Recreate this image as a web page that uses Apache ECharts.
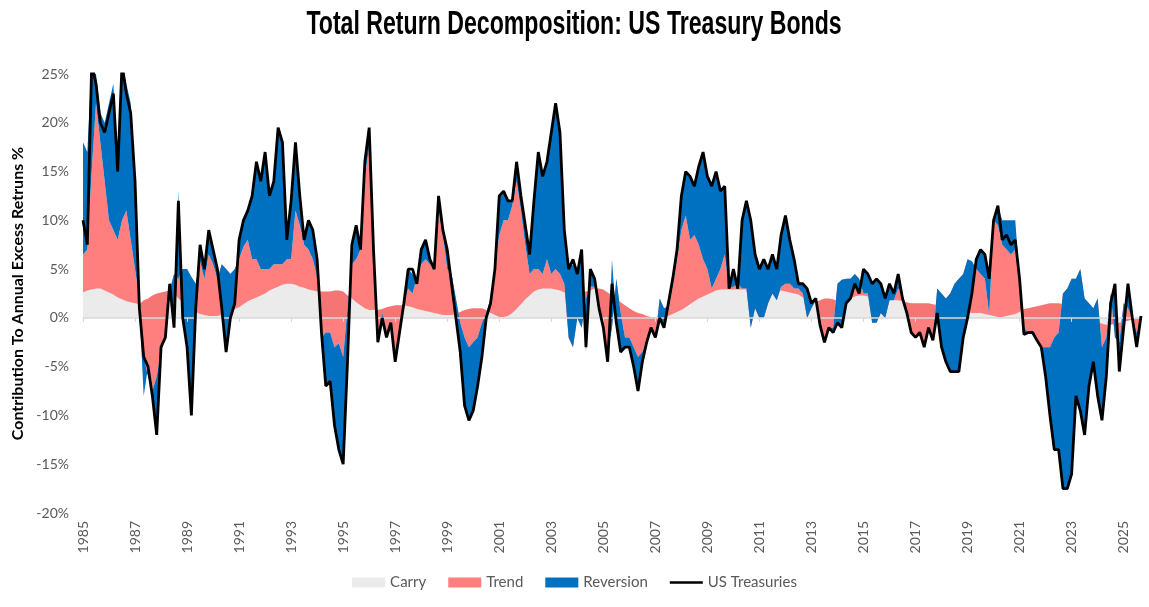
<!DOCTYPE html>
<html>
<head>
<meta charset="utf-8">
<title>Total Return Decomposition: US Treasury Bonds</title>
<script src="https://cdn.jsdelivr.net/npm/echarts@6/dist/echarts.min.js"></script>
<style>
  html, body { margin: 0; padding: 0; background: #fff; }
  #chart { width: 1149px; height: 607px; }
</style>
</head>
<body>
<div id="chart"></div>
<script>
// bi-monthly observations, Jan 1985 .. Sep 2025 (one row per year: Jan Mar May Jul Sep Nov)
const months = [];
for (let y = 1985; y <= 2025; y++) {
  for (let m = 1; m <= 11; m += 2) {
    if (y === 2025 && m > 9) break;
    months.push(y + '-' + String(m).padStart(2, '0'));
  }
}

const seriesNames = ['Carry', 'Trend', 'Reversion', 'US Treasuries'];
const yTicks = { min: -20, max: 25, step: 5 };

// contribution to annual excess returns, %
const carry = [
  2.6, 2.8, 2.9, 3.0, 3.0, 2.8,
  2.6, 2.4, 2.1, 1.9, 1.7, 1.6,
  1.5, 1.4, 1.8, 2.0, 2.3, 2.5,
  2.6, 2.7, 2.8, 2.5, 2.0, 1.6,
  1.2, 0.9, 0.6, 0.4, 0.3, 0.2,
  0.2, 0.2, 0.3, 0.4, 0.6, 0.9,
  1.1, 1.4, 1.7, 1.9, 2.1, 2.3,
  2.5, 2.8, 3.0, 3.2, 3.4, 3.5,
  3.5, 3.4, 3.2, 3.1, 2.9, 2.8,
  2.7, 2.7, 2.7, 2.7, 2.8, 2.8,
  2.7, 2.3, 2.0, 1.6, 1.3, 1.0,
  0.8, 0.8, 0.8, 0.9, 1.1, 1.2,
  1.3, 1.3, 1.3, 1.2, 1.1, 0.9,
  0.8, 0.7, 0.6, 0.5, 0.4, 0.3,
  0.3, 0.3, 0.4, 0.6, 0.8, 0.9,
  1.0, 1.0, 1.0, 0.8, 0.5, 0.3,
  0.1, 0.1, 0.2, 0.5, 0.9, 1.4,
  1.9, 2.3, 2.7, 2.9, 3.0, 3.0,
  3.0, 2.9, 2.8, 2.6, 2.5, 2.5,
  2.5, 2.6, 2.7, 2.8, 3.0, 3.0,
  2.9, 2.6, 2.3, 2.0, 1.6, 1.3,
  1.0, 0.7, 0.5, 0.4, 0.2, 0.1,
  0.05, 0.05, 0.1, 0.2, 0.4, 0.6,
  0.8, 1.1, 1.4, 1.7, 2.0, 2.2,
  2.4, 2.6, 2.8, 2.9, 2.9, 2.9,
  2.9, 2.9, 2.9, 2.9, 2.9, 2.9,
  2.9, 2.9, 2.9, 2.9, 2.8, 2.8,
  2.7, 2.6, 2.5, 2.4, 2.1, 1.8,
  1.6, 1.6, 1.8, 2.0, 2.0, 1.9,
  1.7, 1.7, 1.8, 2.0, 2.2, 2.3,
  2.3, 2.2, 2.1, 2.0, 1.9, 1.8,
  1.8, 1.8, 1.8, 1.7, 1.6, 1.5,
  1.5, 1.5, 1.5, 1.5, 1.4, 1.3,
  1.2, 1.1, 1.0, 0.9, 0.8, 0.7,
  0.6, 0.5, 0.5, 0.5, 0.4, 0.3,
  0.2, 0.1, 0.1, 0.2, 0.3, 0.4,
  0.6, 0.9, 1.0, 1.1, 1.2, 1.3,
  1.4, 1.5, 1.5, 1.5, 1.4, 1.2,
  1.0, 0.7, 0.4, 0.2, 0.0, -0.2,
  -0.4, -0.6, -0.7, -0.7, -0.6, -0.5,
  -0.4, -0.3, -0.2, -0.1, -0.1
];

const trend = [
  3.9, 4.2, 12.1, 19, 15, 11.2,
  7.4, 6.6, 5.9, 8.1, 9.3, 6.4,
  3.5, 0.6, -5.8, -8, -9.8, -8.5,
  -6.1, -4.2, 0, 2, 2, 3.4,
  3.8, 3.3, 2.9, 5.4, 3.7, 6.3,
  5.3, 3.8, 5.2, 4.6, 3.9, 4.1,
  4.9, 5.9, 6.3, 4.1, 3.9, 2.7,
  2.5, 2.2, 2.5, 2.3, 2.1, 2.5,
  2.5, 7.6, 6.3, 4.4, 4.1, 3.2,
  1.5, -4.7, -4.2, -4.2, -5.8, -5.4,
  -6.7, -1.3, 3.5, 4.4, 5.7, 13.5,
  16.7, 7.2, -2.8, -0.4, -2.6, -1.7,
  -5.3, -2.3, 0, 1.8, 1.4, 3.3,
  4.7, 5.3, 4.9, 4.5, 10.6, 8.2,
  4.7, 4.2, 1.6, -1.1, -2.8, -3.9,
  -3.5, -3, -1.5, -0.3, 1.5, 4.7,
  8.4, 9.9, 9.8, 11, 13.1, 9.6,
  5.6, 2.2, 2.3, 2.1, 1.5, 3,
  1.5, 2.1, 1.7, 0.9, -4.5, -5.5,
  -2.5, -3.6, -0.7, 0.4, 0.2, -2,
  -3.9, -6.1, -3.3, 2, -1.1, -3.3,
  -3, -3.7, -4.5, -3.9, -2.7, -1.1,
  -2.05, 1.95, 0.9, 1, 2.8, 5.4,
  8.2, 9.4, 6.6, 6.8, 5.5, 3.8,
  2.6, 0.4, 1.2, 2.1, 3.6, 0.1,
  0.3, 0.6, 0.1, 0.1, -3.9, -1.9,
  -2.9, -2.9, -1.4, -0.4, -1, 0.4,
  0.8, 0.9, 0.5, 0.6, 0.4, -1.8,
  -0.6, 0.2, -2.6, -4, -3, -2.9,
  1.8, 2.2, 2.2, 2, 2.3, 1.7,
  0.2, 0.3, -2.6, -2.5, -1.4, -1.8,
  0, 0, 1.2, 0.8, -1.1, -3,
  -3.5, -3, -4.5, -2.5, -3.7, 1.7,
  1.3, 0.9, 1.5, 2.6, 3.2, 3.8,
  5.4, 5.3, 4.5, 4, 3.6, 0,
  9.8, 9.4, 7.4, 6.8, 6.2, 6.6,
  3.4, -1.9, -2.5, -2.6, -3.5, -4.3,
  -4.4, -4.5, -3.5, -3, 1.1, 1.8,
  3, 3.3, 4.6, 1.8, 1.5, 1.2,
  2.4, -2.4, -1.3, 3.2, -1.4, -2,
  1.9, 1.3, 0.2, -1.4, -0.4
];

const reversion = [
  11.5, 10, 11, 3, 3, 6,
  12, 15, 8, 16, 13, 14,
  10, -1, -4, 1, -0.5, -6,
  0.5, -0.5, 0.7, -5.5, 9, -5,
  -8, -13.7, -2.5, 1.7, 1.5, 2.5,
  1.5, 1, -4.5, -8.5, -4.5, -3.5,
  2, 2.7, 3, 6.5, 10, 9,
  12, 7.5, 8.5, 14, 12.5, 2,
  6, 7, 3, 0.5, 3, 3,
  1.8, 0.5, -5.5, -5, -8, -10.9,
  -11, -5.5, 2, 3.5, 0.5, 1.5,
  2, -1, -0.5, -0.5, -0.5, 0,
  -0.5, -0.5, 0.2, 2, 2, -0.7,
  1.5, 2, 0.5, 0, 1.5, 0.5,
  2, -1, -2, -3, -7, -7.5,
  -7, -5, -3.5, -0.5, -0.5, 0,
  4, 3, 2, 0.5, 2, 1.5,
  2, 2, 7, 12, 10, 10,
  14.5, 17, 14.5, 5.5, 7, 8.5,
  4.5, 8, -5.5, 1.8, 0.8, 0,
  0, -1, 7, -4.5, -4, -1,
  -1, -2, -3.5, -1, 0, 0,
  0, -2, -2, 0.3, 0.8, 1,
  3.5, 4.5, 6.5, 5, 8, 11,
  9.5, 10.5, 11, 8, 7, 0,
  1.8, -0.5, 7, 9, 11, 5.5,
  5, 6, 3.5, 4, 3.2, 5.3,
  7, 4.5, 3, 0.5, 1, 3,
  0.5, 0.2, 0, -0.5, 0, -0.5,
  -4, -4.9, -2.5, -2, -1, -1.5,
  2.5, 2, 4, 4.5, 3, 2,
  1.7, 0.7, 1.5, -0.5, 0, 0,
  0, 0, 0, 0, 0, -2.5,
  -5.5, -6.5, -8, -9, -9.5, -6.5,
  -6, -3.3, 1, 2.5, 2.5, 3.7,
  0, 2, 2.5, 3, 3.5, 3,
  0, -0.7, 0, 0, 0, 0,
  -3, -7, -11.5, -12, -20, -20.5,
  -20, -12, -14.5, -14, -8.5, -5.5,
  -10, -7.5, -4, -1, 5.5, -3,
  -2.5, 2.5, 0, -1.5, 0.7
];

const usTreasuries = [
  10, 7.5, 26, 24, 20, 19,
  21, 23, 15, 26, 23, 21,
  14, 1, -4, -5, -8, -12,
  -3, -2, 3.5, -1, 12, 0,
  -3, -10, 1, 7.5, 5, 9,
  7, 5, 1, -3.5, 0, 1.5,
  8, 10, 11, 12.5, 16, 14,
  17, 12.5, 14, 19.5, 18, 8,
  12, 18, 12.5, 8, 10, 9,
  6, -1.5, -7, -6.5, -11, -13.5,
  -15, -4.5, 7.5, 9.5, 7, 16,
  19.5, 7, -2.5, 0, -2, -0.5,
  -4.5, -1.5, 1.5, 5, 5, 3.5,
  7, 8, 6, 5, 12.5, 9,
  7, 3.5, 0, -3.5, -9, -10.5,
  -9.5, -7, -4, 0, 1.5, 5,
  12.5, 13, 12, 12, 16, 12.5,
  9.5, 6.5, 12, 17, 14.5, 16,
  19, 22, 19, 9, 5, 6,
  4.5, 7, -3, 5, 4, 1,
  -1, -4.5, 3.5, -0.5, -3.5, -3,
  -3, -5, -7.5, -4.5, -2.5, -1,
  -2, 0, -1, 1.5, 4, 7,
  12.5, 15, 14.5, 13.5, 15.5, 17,
  14.5, 13.5, 15, 13, 13.5, 3,
  5, 3, 10, 12, 10, 6.5,
  5, 6, 5, 6.5, 5, 8.5,
  10.5, 8, 6, 3.5, 3.5, 3,
  1.5, 2, -0.8, -2.5, -1, -1.5,
  -0.5, -1, 1.5, 2, 3.5, 2.5,
  5, 4.5, 3.5, 4, 3.5, 2,
  3.5, 2.5, 4.5, 2, 0.5, -1.5,
  -2, -1.5, -3, -1, -2.3, 0.5,
  -3, -4.5, -5.5, -5.5, -5.5, -2,
  0, 2.5, 6, 7, 6.5, 4,
  10, 11.5, 8, 8.5, 7.5, 8,
  4, -1.7, -1.5, -1.5, -2.3, -3,
  -6, -10, -13.5, -13.5, -17.5, -17.5,
  -16, -8, -9.5, -12, -7, -4.5,
  -8, -10.5, -6, 1.5, 3.5, -5.5,
  -1, 3.5, 0, -3, 0.2
];

const colors = {
  carry: '#EBEBEB',
  trend: 'rgba(255,0,0,0.5)',
  reversion: '#0070C0',
  line: '#000000'
};

const labelFont = 'Lato, "Open Sans", sans-serif';
// thin horizontal bar for the line legend entry (corner points keep the 33x10 box)
const lineIcon = 'path://M0,0 L0.01,0 M33,10 L33,9.99 M0,3.75 L33,3.75 L33,6.25 L0,6.25 Z';

function areaSeries(name, data, color) {
  return {
    name: name,
    type: 'line',
    stack: 'decomp',
    stackStrategy: 'all',
    data: data,
    symbol: 'none',
    lineStyle: { width: 0 },
    itemStyle: { color: color },
    areaStyle: { color: color, opacity: 1 },
    emphasis: { disabled: true },
    z: 2
  };
}

const chart = echarts.init(document.getElementById('chart'));
chart.setOption({
  animation: false,
  backgroundColor: '#fff',
  graphic: [{
    type: 'text',
    x: 574,
    y: 25,
    scaleX: 0.68,
    style: {
      text: 'Total Return Decomposition: US Treasury Bonds',
      font: 'bold 34px "Liberation Sans", Arial, sans-serif',
      fill: '#000',
      textAlign: 'center',
      textVerticalAlign: 'middle'
    }
  }],
  legend: {
    bottom: 12,
    left: 'center',
    itemWidth: 33,
    itemHeight: 10,
    itemGap: 22,
    textStyle: { color: '#595959', fontSize: 15, fontFamily: labelFont },
    data: [
      { name: seriesNames[0], icon: 'rect' },
      { name: seriesNames[1], icon: 'rect' },
      { name: seriesNames[2], icon: 'rect' },
      { name: seriesNames[3], icon: lineIcon }
    ]
  },
  grid: { left: 83, right: 8, top: 74, bottom: 94 },
  xAxis: [
    {
      type: 'category',
      data: months,
      boundaryGap: false,
      position: 'bottom',
      axisLine: { show: false, onZero: false },
      axisTick: { show: false },
      splitLine: { show: false },
      axisLabel: {
        interval: 11,
        rotate: 90,
        margin: 8,
        color: '#595959',
        fontSize: 14,
        fontFamily: labelFont,
        formatter: v => v.slice(0, 4)
      }
    },
    {
      type: 'category',
      data: months,
      boundaryGap: false,
      position: 'bottom',
      z: 3,
      axisLine: { show: true, onZero: true, lineStyle: { color: '#D9D9D9', width: 1.5 } },
      axisTick: { show: true, interval: 11, length: 4, lineStyle: { color: '#D9D9D9' } },
      axisLabel: { show: false },
      splitLine: { show: false }
    }
  ],
  yAxis: {
    type: 'value',
    min: yTicks.min,
    max: yTicks.max,
    interval: yTicks.step,
    axisLine: { show: false },
    axisTick: { show: false },
    splitLine: { show: false },
    axisLabel: {
      formatter: '{value}%',
      color: '#595959',
      fontSize: 14,
      fontFamily: labelFont,
      margin: 14
    },
    name: 'Contribution To Annual Excess Retruns %',
    nameLocation: 'middle',
    nameGap: 53,
    nameTextStyle: {
      fontWeight: 'bold',
      fontSize: 16,
      color: '#000',
      fontFamily: labelFont
    }
  },
  series: [
    areaSeries(seriesNames[0], carry, colors.carry),
    areaSeries(seriesNames[1], trend, colors.trend),
    areaSeries(seriesNames[2], reversion, colors.reversion),
    {
      name: seriesNames[3],
      type: 'line',
      data: usTreasuries,
      symbol: 'none',
      lineStyle: { color: colors.line, width: 2.8 },
      itemStyle: { color: colors.line },
      emphasis: { disabled: true },
      z: 5
    }
  ]
});
</script>
</body>
</html>
